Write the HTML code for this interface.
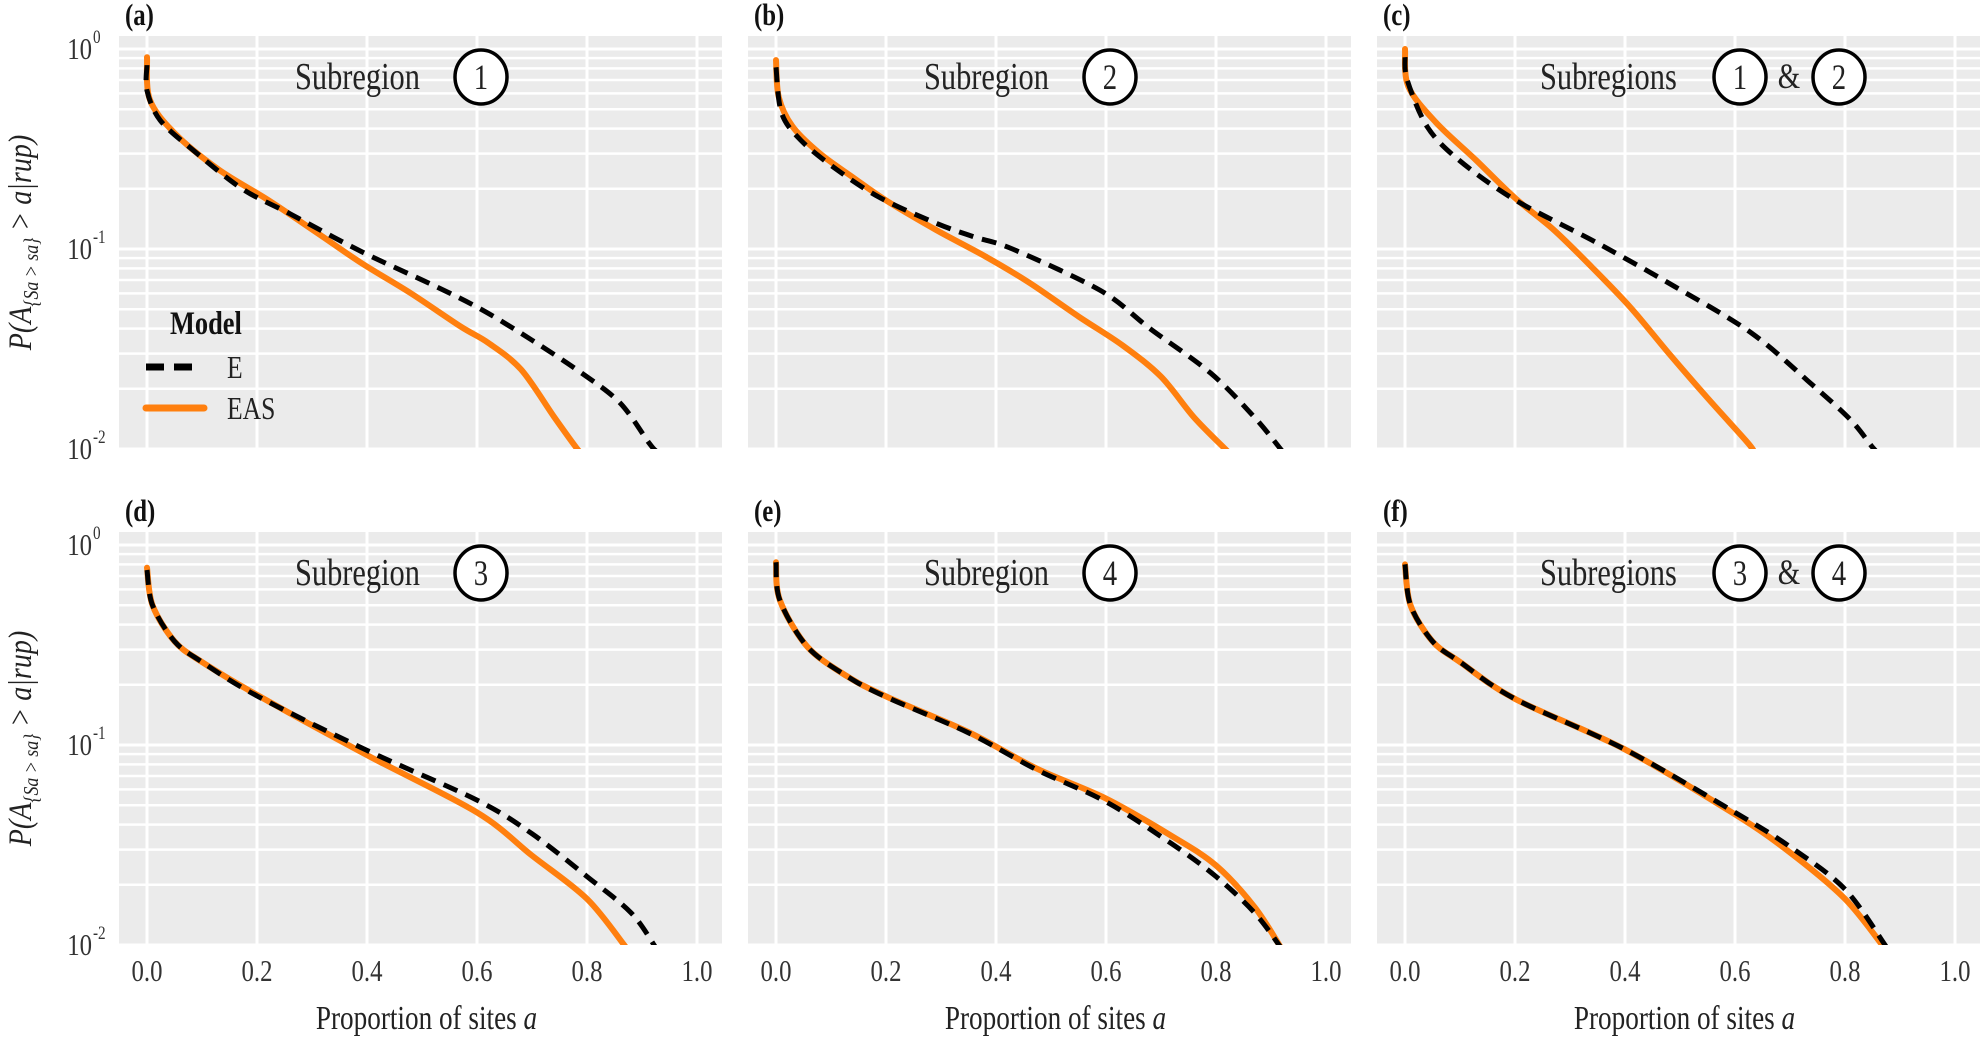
<!DOCTYPE html>
<html><head><meta charset="utf-8"><style>
html,body{margin:0;padding:0;background:#fff;}
svg{display:block;font-family:"Liberation Serif",serif;}
</style></head><body>
<svg id="fig" width="1982" height="1037" viewBox="0 0 1982 1037" xmlns="http://www.w3.org/2000/svg"></svg>
<script>
// ---- data ----
const panelLetters = ["(a)","(b)","(c)","(d)","(e)","(f)"];
const xTicks = [0,0.2,0.4,0.6,0.8,1.0];
const xTickLabels = ["0.0","0.2","0.4","0.6","0.8","1.0"];
const aE_x = [0,0,0.024,0.085,0.173,0.26,0.39,0.525,0.61,0.70,0.79,0.86,0.913,0.925];
const aE_p = [0.83,0.62,0.44,0.31,0.20,0.15,0.097,0.065,0.0495,0.035,0.024,0.017,0.0107,0.0098];
const aS_x = [0,0.005,0.05,0.13,0.22,0.31,0.39,0.48,0.57,0.62,0.68,0.74,0.78,0.79];
const aS_p = [0.91,0.56,0.38,0.25,0.176,0.12,0.085,0.06,0.041,0.034,0.025,0.0145,0.0102,0.0095];
const bE_x = [0,0.01,0.045,0.11,0.19,0.29,0.36,0.43,0.59,0.68,0.79,0.87,0.92];
const bE_p = [0.81,0.48,0.35,0.25,0.18,0.135,0.115,0.1,0.062,0.04,0.024,0.0144,0.0098];
const bS_x = [0,0.005,0.03,0.08,0.14,0.2,0.29,0.38,0.46,0.55,0.63,0.7,0.76,0.82];
const bS_p = [0.88,0.575,0.41,0.3,0.228,0.175,0.125,0.092,0.068,0.046,0.033,0.023,0.0144,0.0098];
const cE_x = [0,0.004,0.04,0.097,0.2,0.35,0.49,0.63,0.74,0.81,0.85,0.86];
const cE_p = [0.91,0.70,0.41,0.28,0.176,0.107,0.065,0.038,0.021,0.014,0.0102,0.0096];
const cS_x = [0,0.006,0.056,0.128,0.2,0.27,0.34,0.41,0.48,0.55,0.62,0.634];
const cS_p = [1.0,0.65,0.43,0.28,0.18,0.125,0.081,0.051,0.030,0.018,0.011,0.0098];
const dE_x = [0,0.01,0.05,0.1,0.2,0.4,0.6,0.7,0.8,0.88,0.924];
const dE_p = [0.75,0.5,0.33,0.26,0.176,0.094,0.053,0.036,0.022,0.0145,0.0098];
const dS_x = [0,0.01,0.05,0.1,0.2,0.4,0.6,0.7,0.8,0.87];
const dS_p = [0.77,0.5,0.33,0.26,0.178,0.089,0.046,0.028,0.017,0.0098];
const eE_x = [0,0.007,0.057,0.13,0.2,0.35,0.475,0.6,0.72,0.8,0.87,0.917];
const eE_p = [0.82,0.53,0.31,0.22,0.174,0.115,0.075,0.052,0.032,0.022,0.0145,0.0098];
const eS_x = [0,0.007,0.057,0.13,0.2,0.35,0.475,0.6,0.72,0.8,0.87,0.917];
const eS_p = [0.82,0.53,0.31,0.22,0.175,0.116,0.076,0.054,0.035,0.025,0.0155,0.0098];
const fE_x = [0,0.01,0.05,0.1,0.2,0.4,0.6,0.7,0.8,0.875];
const fE_p = [0.8,0.5,0.33,0.26,0.17,0.095,0.046,0.031,0.019,0.0098];
const fS_x = [0,0.01,0.05,0.1,0.2,0.4,0.6,0.7,0.8,0.87];
const fS_p = [0.8,0.5,0.33,0.26,0.17,0.095,0.045,0.029,0.017,0.0098];
const seriesE = [[aE_x,aE_p],[bE_x,bE_p],[cE_x,cE_p],[dE_x,dE_p],[eE_x,eE_p],[fE_x,fE_p]];
const seriesS = [[aS_x,aS_p],[bS_x,bS_p],[cS_x,cS_p],[dS_x,dS_p],[eS_x,eS_p],[fS_x,fS_p]];
const titles = [["Subregion",["1"]],["Subregion",["2"]],["Subregions",["1","2"]],["Subregion",["3"]],["Subregion",["4"]],["Subregions",["3","4"]]];

// ---- layout ----
const NS="http://www.w3.org/2000/svg";
const svg=document.getElementById('fig');
const colL=[119,748,1377], rowT=[36,532], PW=603, PH=413;
const SX=0.8;
function mk(tag,attrs,parent){const e=document.createElementNS(NS,tag);for(const k in attrs)e.setAttribute(k,attrs[k]);(parent||svg).appendChild(e);return e;}
function tx(parent,x,y,size,attrs){const a=Object.assign({x:0,y:0,'font-size':size,transform:'translate('+x+','+y+') scale('+SX+',1)'},attrs||{});return mk('text',a,parent);}
function xs(L,x){return L+28+550*x;}
function ys(T,p){return T+13+200*(-Math.log10(p));}
function smoothPath(pts){
  let d='M'+pts[0][0]+','+pts[0][1];
  for(let i=0;i<pts.length-1;i++){
    const p0=pts[Math.max(0,i-1)],p1=pts[i],p2=pts[i+1],p3=pts[Math.min(pts.length-1,i+2)];
    const t=0.16;
    const c1=[p1[0]+(p2[0]-p0[0])*t,p1[1]+(p2[1]-p0[1])*t];
    const c2=[p2[0]-(p3[0]-p1[0])*t,p2[1]-(p3[1]-p1[1])*t];
    d+=' C'+c1[0]+','+c1[1]+' '+c2[0]+','+c2[1]+' '+p2[0]+','+p2[1];
  }
  return d;
}

for(let i=0;i<6;i++){
  const L=colL[i%3], T=rowT[Math.floor(i/3)];
  const g=mk('g',{});
  
  
  const cid='clip'+i;
  const cp=mk('clipPath',{id:cid},g); mk('rect',{x:L,y:T,width:PW,height:PH},cp);
  const bg=mk('rect',{x:L,y:T,width:PW,height:PH,fill:'#ebebeb'},g);
  
  
  for(let d=0;d>=-2;d--){for(let m=1;m<=9;m++){const p=m*Math.pow(10,d); if(p>1.2||p<0.01)continue;
    const y=ys(T,p); if(y<T||y>T+PH)continue;
    const ln=mk('line',{x1:L,x2:L+PW,y1:y,y2:y,stroke:'#fff','stroke-width':m===1?3:2.5},g);
    
    }}
  xTicks.forEach(v=>{const x=xs(L,v);const ln=mk('line',{x1:x,x2:x,y1:T,y2:T+PH,stroke:'#fff','stroke-width':3},g);
    
    });
  const sg=mk('g',{'clip-path':'url(#'+cid+')'},g);
  const [sx,sp]=seriesS[i];
  const ps=mk('path',{d:smoothPath(sx.map((v,k)=>[xs(L,v),ys(T,sp[k])])),fill:'none',stroke:'#ff7f0e','stroke-width':6,'stroke-linejoin':'round','stroke-linecap':'round'},sg);
  
  
  const [ex,ep]=seriesE[i];
  const pe=mk('path',{d:smoothPath(ex.map((v,k)=>[xs(L,v),ys(T,ep[k])])),fill:'none',stroke:'#000','stroke-width':5,'stroke-dasharray':'15 9','stroke-linejoin':'round'},sg);
  
  
  const lt=tx(g,L+6,T-11,31,{'font-weight':'bold',fill:'#111'}); lt.textContent=panelLetters[i];
  
  
  const [word,nums]=titles[i];
  const ty=T+41;
  const tX = nums.length===1 ? L+176 : L+163;
  const tt=tx(g,tX,ty+12,38,{fill:'#222'}); tt.textContent=word;
  
  
  const circX = nums.length===1 ? [L+362] : [L+363,L+462];
  nums.forEach((n,k)=>{
    const c=mk('ellipse',{cx:circX[k],cy:ty,rx:26,ry:27,fill:'#fff',stroke:'#000','stroke-width':3.5},g);
    
    
    const nt=tx(g,circX[k],ty+12,36,{'text-anchor':'middle',fill:'#222'}); nt.textContent=n;
    
    
  });
  if(nums.length===2){const am=tx(g,L+412,ty+11,36,{'text-anchor':'middle',fill:'#222'});am.textContent='&';
    
    }
  if(T===rowT[1]){xTicks.forEach((v,k)=>{const t=tx(g,xs(L,v),T+PH+36,31,{'text-anchor':'middle',fill:'#333'});t.textContent=xTickLabels[k];
    
    });
    const xt=tx(g,L+PW/2+6,1029,34,{'text-anchor':'middle',fill:'#222'});
    xt.innerHTML='Proportion of sites <tspan font-style="italic">a</tspan>';
    
    }
  if(L===colL[0]){
    [[1,'0'],[0.1,'-1'],[0.01,'-2']].forEach(([p,e])=>{const y=ys(T,p);const t=tx(g,92,y+10,31,{'text-anchor':'end',fill:'#333'});t.textContent='10';
      
      
      const s=tx(g,93,y-6,19,{fill:'#333'});s.textContent=e;});
    const cy=T+PH/2;
    const yt=mk('text',{x:0,y:0,'font-size':33,'text-anchor':'middle',fill:'#222','font-style':'italic',transform:'translate(31,'+cy+') rotate(-90) scale(0.85,1)'},g);
    yt.innerHTML='P(A<tspan font-size="21" dy="7">{Sa &gt; sa}</tspan><tspan dy="-7"> &gt; a|rup)</tspan>';
    
    
  }
}
const lg=mk('g',{});


const lt1=tx(lg,170,334,33,{'font-weight':'bold',fill:'#111'});lt1.textContent='Model';
const l1=mk('line',{x1:146,x2:201,y1:367,y2:367,stroke:'#000','stroke-width':7,'stroke-dasharray':'18 10'},lg);


const t1=tx(lg,227,378,32,{fill:'#222'});t1.textContent='E';


const l2=mk('line',{x1:146,x2:204,y1:408,y2:408,stroke:'#ff7f0e','stroke-width':7,'stroke-linecap':'round'},lg);


const t2=tx(lg,227,419,32,{fill:'#222'});t2.textContent='EAS';


</script>
</body></html>
